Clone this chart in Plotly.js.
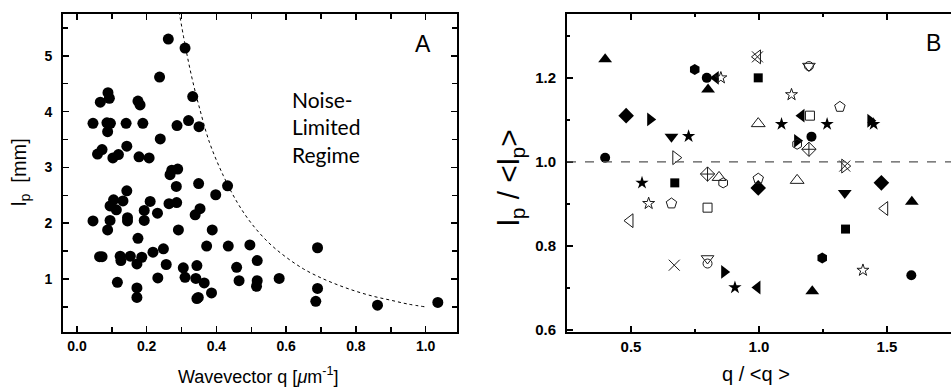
<!DOCTYPE html>
<html>
<head>
<meta charset="utf-8">
<script src="https://cdn.plot.ly/plotly-3.0.1.min.js"></script>
<style>html,body{margin:0;padding:0;background:#fff;}#chart{width:951px;height:387px;}</style>
</head>
<body>
<div id="chart"></div>
<script>
// ---------- Panel A data ----------
const aQ = [0.262,0.310,0.237,0.089,0.093,0.067,0.175,0.181,0.332,
  0.046,0.086,0.096,0.141,0.189,0.088,0.287,0.320,0.350,0.239,
  0.143,0.072,0.059,0.103,0.119,0.178,0.207,
  0.267,0.272,0.289,0.285,0.349,0.432,0.398,0.143,
  0.105,0.132,0.095,0.113,0.210,0.193,0.231,0.264,0.286,0.339,0.353,
  0.046,0.095,0.088,0.145,0.145,0.193,0.175,0.291,0.388,
  0.372,0.434,0.496,0.690,
  0.065,0.072,0.124,0.126,0.153,0.172,0.186,0.218,0.248,0.256,
  0.305,0.310,0.344,0.341,0.365,0.386,0.232,0.116,0.172,0.172,0.344,0.348,
  0.458,0.517,0.465,0.517,0.515,0.580,0.690,0.685,0.862,1.035];
const aL = [5.30,5.14,4.62,4.34,4.24,4.17,4.19,4.12,4.27,
  3.79,3.80,3.79,3.79,3.79,3.64,3.75,3.84,3.73,3.51,
  3.38,3.32,3.24,3.17,3.23,3.19,3.17,
  2.87,2.95,2.97,2.66,2.71,2.67,2.51,2.58,
  2.42,2.40,2.31,2.24,2.39,2.23,2.18,2.35,2.37,2.15,2.26,
  2.04,2.05,1.88,2.10,2.04,2.05,1.73,1.88,1.88,
  1.59,1.59,1.61,1.56,
  1.40,1.40,1.41,1.33,1.41,1.27,1.39,1.48,1.54,1.26,
  1.20,1.03,1.24,1.01,0.93,0.75,1.02,0.94,0.84,0.67,0.65,0.67,
  1.21,1.33,0.97,0.97,0.87,1.01,0.83,0.60,0.53,0.58];
// noise-limit curve
const limitQ = [0.29,0.31,0.33,0.35,0.38,0.42,0.46,0.50,0.55,0.60,0.65,0.70,0.75,0.80,0.85,0.90,0.95,1.00];
const limitL = [5.90,5.20,4.60,4.10,3.45,2.85,2.37,2.00,1.65,1.39,1.18,1.02,0.89,0.78,0.69,0.62,0.55,0.50];

// ---------- Panel B data (q/<q>, lp/<lp>) per symbol ----------
const triUpQ = [0.399,0.801,1.208,1.597],       triUpL = [1.244,1.172,0.692,0.905];
const hexQ = [0.749,1.247],                     hexL = [1.220,0.771];
const circQ = [0.796,0.399,1.205,1.595],        circL = [1.200,1.010,1.060,0.730];
const triLeftQ = [0.831,0.994,1.166],           triLeftL = [1.200,0.701,1.110];
const starOpenQ = [0.851,0.569,1.127,1.406],    starOpenL = [1.200,0.901,1.160,0.742];
const diamQ = [0.481,0.997,1.478],              diamL = [1.110,0.938,0.950];
const triRightQ = [0.575,0.864,1.149,1.435],    triRightL = [1.101,0.738,1.050,1.098];
const triDownQ = [0.658,1.335],                 triDownL = [1.060,0.926];
const starQ = [0.725,0.543,0.906,1.088,1.266,1.448], starL = [1.061,0.950,0.701,1.090,1.090,1.090];
const triRightOpenQ = [0.675,1.335],            triRightOpenL = [1.010,0.990];
const sqQ = [0.671,0.997,1.338],                sqL = [0.950,1.200,0.840];
const diamCrossOpenQ = [0.799,1.195],           diamCrossOpenL = [0.971,1.030];
const triUpOpenQ = [0.844,0.997,1.149],         triUpOpenL = [0.963,1.091,0.956];
const hexOpenQ = [0.860,1.149],                 hexOpenL = [0.950,1.042];
const pentOpenQ = [0.658,1.316,0.997],          pentOpenL = [0.901,1.131,0.960];
const triLeftOpenQ = [0.496,0.994,1.491],       triLeftOpenL = [0.860,1.250,0.889];
const sqOpenQ = [0.799,1.199],                  sqOpenL = [0.891,1.110];
const crossQ = [0.669,0.994,1.335],             crossL = [0.754,1.250,0.990];
const triDownOpenQ = [0.799,1.195],             triDownOpenL = [0.770,1.228];
const circOpenQ = [0.799,1.195],                circOpenL = [0.758,1.228];
const refLine = 1.0;

const W = 951, H = 387;
const px = v => v / W, py = v => 1 - v / H;
const SANS = 'Arial';

const traces = [
  {x: aQ, y: aL, type:'scatter', mode:'markers', xaxis:'x', yaxis:'y',
   marker:{symbol:'circle', size:11, color:'#000'}},
  {x: limitQ, y: limitL, type:'scatter', mode:'lines', xaxis:'x', yaxis:'y',
   line:{color:'#000', width:1, dash:'dot', shape:'spline'}}
];
function addB(q, l, sym, size, open) {
  traces.push({x:q, y:l, type:'scatter', mode:'markers', xaxis:'x2', yaxis:'y2',
    marker:{symbol:sym, size:size, color: open ? '#1a1a1a' : '#000',
      line:{color: open ? '#1a1a1a' : '#000', width: open ? 1 : 0}}});
}
addB(triUpQ, triUpL, 'triangle-up', 12, false);
addB(hexQ, hexL, 'hexagon', 11, false);
addB(circQ, circL, 'circle', 10, false);
addB(triLeftQ, triLeftL, 'triangle-left', 12, false);
addB(starOpenQ, starOpenL, 'star-open', 9, true);
addB(diamQ, diamL, 'diamond', 12, false);
addB(triRightQ, triRightL, 'triangle-right', 12, false);
addB(triDownQ, triDownL, 'triangle-down', 12, false);
addB(starQ, starL, 'star', 10, false);
addB(triRightOpenQ, triRightOpenL, 'triangle-right-open', 12, true);
addB(sqQ, sqL, 'square', 9, false);
addB(diamCrossOpenQ, diamCrossOpenL, 'diamond-cross-open', 11, true);
addB(triUpOpenQ, triUpOpenL, 'triangle-up-open', 12, true);
addB(hexOpenQ, hexOpenL, 'hexagon-open', 10, true);
addB(pentOpenQ, pentOpenL, 'pentagon-open', 11, true);
addB(triLeftOpenQ, triLeftOpenL, 'triangle-left-open', 12, true);
addB(sqOpenQ, sqOpenL, 'square-open', 9, true);
addB(crossQ, crossL, 'x-thin-open', 11, true);
addB(triDownOpenQ, triDownOpenL, 'triangle-down-open', 11, true);
addB(circOpenQ, circOpenL, 'circle-open', 9, true);

const tickFont = {family:SANS, size:14, color:'#000', weight:'bold'};
const baseAx = {showgrid:false, zeroline:false, showline:true, linecolor:'#000', linewidth:2,
  ticks:'inside', ticklen:6, tickwidth:1.5, tickcolor:'#000', tickfont:tickFont};

function note(x, y, text, size, extra) {
  return Object.assign({xref:'paper', yref:'paper', x:px(x), y:py(y), text:text,
    xanchor:'center', yanchor:'middle', showarrow:false,
    font:{family:SANS, size:size, color:'#000'}}, extra || {});
}

const layout = {
  width: W, height: H, margin:{l:0, r:0, t:0, b:0},
  paper_bgcolor:'#fff', plot_bgcolor:'#fff', showlegend:false,
  font:{family:SANS, color:'#000'},
  xaxis: Object.assign({}, baseAx, {domain:[px(63), px(457)], range:[-0.04, 1.09],
    tick0:0, dtick:0.2, tickformat:'.1f', mirror:'ticks', anchor:'y',
    minor:{dtick:0.1, tick0:0, ticks:'inside', ticklen:5, tickwidth:1.5, tickcolor:'#000'}}),
  yaxis: Object.assign({}, baseAx, {domain:[py(332), py(14)], range:[0.05, 5.75],
    tick0:0, dtick:1, mirror:'ticks', anchor:'x', ticklabelstandoff:6,
    minor:{dtick:0.5, tick0:0, ticks:'inside', ticklen:5, tickwidth:1.5, tickcolor:'#000'}}),
  xaxis2: Object.assign({}, baseAx, {domain:[px(567), 1], range:[0.25, 1.75],
    tick0:0, dtick:0.5, tickformat:'.1f', mirror:'ticks', anchor:'y2',
    tickfont:Object.assign({}, tickFont, {size:15}),
    minor:{dtick:0.25, tick0:0, ticks:'inside', ticklen:3, tickwidth:1.5, tickcolor:'#000'}}),
  yaxis2: Object.assign({}, baseAx, {domain:[py(332), py(14)], range:[0.595, 1.352],
    tick0:0, dtick:0.2, tickformat:'.1f', mirror:false, anchor:'x2', ticklabelstandoff:6,
    tickfont:Object.assign({}, tickFont, {size:15}),
    minor:{dtick:0.1, tick0:0, ticks:'inside', ticklen:3, tickwidth:1.5, tickcolor:'#000'}}),
  shapes: [
    {type:'line', xref:'x2 domain', yref:'y2', x0:0, x1:1, y0:refLine, y1:refLine,
     line:{color:'#555', width:1.3, dash:'dash'}}
  ],
  annotations: [
    note(20, 172, 'l<sub>p</sub>  [mm]', 20, {textangle:-90}),
    note(258, 375, 'Wavevector q [<i>μ</i>m<sup>-1</sup>]', 18),
    note(290, 127, 'Noise-<br>Limited<br>Regime', 21,
         {xanchor:'left', align:'left', font:{family:'Lato', size:21, color:'#000'}}),
    note(423, 44, 'A', 23),
    note(933, 43, 'B', 23),
    note(510, 178, 'l<sub>p</sub> / &lt;l<sub>p</sub>&gt;', 30, {textangle:-90}),
    note(756, 374, 'q / &lt;q &gt;', 20)
  ]
};

Plotly.newPlot('chart', traces, layout, {displayModeBar:false, staticPlot:true});
</script>
</body>
</html>
